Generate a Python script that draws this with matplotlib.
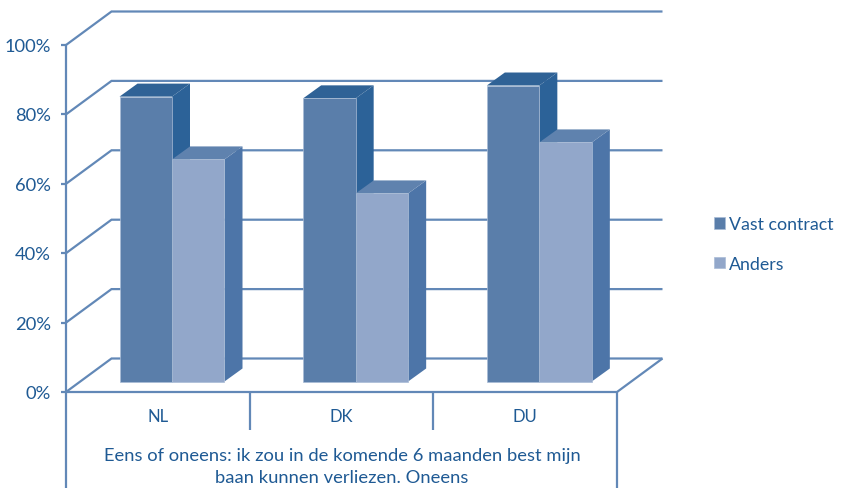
import matplotlib
matplotlib.use("Agg")
import matplotlib.pyplot as plt
from matplotlib.patches import Polygon, Rectangle

categories = ["NL", "DK", "DU"]
series_names = ["Vast contract", "Anders"]
vast_contract = [82.1, 81.6, 85.3]
anders = [64.0, 54.2, 68.9]
y_ticks = [0, 20, 40, 60, 80, 100]
y_labels = ["0%", "20%", "40%", "60%", "80%", "100%"]
axis_title = "Eens of oneens: ik zou in de komende 6 maanden best mijn\nbaan kunnen verliezen. Oneens"

LINE = "#6288b7"
TEXT = "#1f5a94"
FRONT = ["#5a7eaa", "#92a7ca"]
TOP = ["#2f6296", "#5f82ae"]
SIDE = ["#2c6298", "#4d75a8"]
EDGE = "#a9bcd6"

W, H = 842, 489
plt.rcParams["font.family"] = ["Lato", "DejaVu Sans"]
fig = plt.figure(figsize=(W / 100, H / 100), dpi=100)
x0, x1, y0, y1 = 66, 617, 393, 46
ax = fig.add_axes([x0 / W, 1 - y0 / H, (x1 - x0) / W, (y0 - y1) / H])
ax.set_xlim(0, 3)
ax.set_ylim(0, 100)
ax.axis("off")

px = 3 / (x1 - x0)          # data units per pixel, x
py = 100 / (y0 - y1)        # data units per pixel, y
DX, DY = 45.5 * px, 33.5 * py  # wall depth
bx, by = 18 * px, 13 * py    # bar depth
base = 10.5 * py             # bar base above front floor edge
margin = 53.5 * px
bw = 52.5 * px
lw = 1.6


def ln(xs, ys, **kw):
    ax.plot(xs, ys, color=LINE, lw=kw.pop("lw", lw), clip_on=False,
            solid_capstyle="butt", solid_joinstyle="miter", **kw)


for t in y_ticks:
    ln([0, DX, 3 + DX], [t, t + DY, t + DY], zorder=1)
    ln([-5 * px, 0], [t, t], zorder=1)
ln([0, 0], [0, 100], zorder=1)
ln([0, 3, 3 + DX], [0, 0, DY], zorder=1)
for i in range(1, 3):
    ln([i, i], [0, -38 * py], zorder=1)
for i in (0, 3):
    ln([i, i], [0, -97 * py], zorder=1)

for i in range(len(categories)):
    for s, vals in enumerate((vast_contract, anders)):
        v = vals[i]
        l = i + margin + s * bw
        r = l + bw
        z = 3 + s + i
        ax.add_patch(Polygon([(r, base), (r + bx, base + by), (r + bx, base + v + by), (r, base + v)],
                             fc=SIDE[s], ec="none", zorder=z, clip_on=False))
        ax.add_patch(Polygon([(l, base + v), (l + bx, base + v + by), (r + bx, base + v + by), (r, base + v)],
                             fc=TOP[s], ec="none", zorder=z, clip_on=False))
        ax.add_patch(Rectangle((l, base), bw, v, fc=FRONT[s], ec=EDGE, lw=0.5, zorder=z, clip_on=False))

for t, lab in zip(y_ticks, y_labels):
    ax.text(-15 * px, t - 1 * py, lab, ha="right", va="center", fontsize=13.2, color=TEXT, clip_on=False)
for i, c in enumerate(categories):
    ax.text(i + 0.5, -24 * py, c, ha="center", va="center", fontsize=12, color=TEXT, clip_on=False)
ax.text((342 - x0) * px, -74 * py, axis_title, ha="center", va="center", fontsize=13.2,
        color=TEXT, linespacing=1.5, clip_on=False)

handles = [Rectangle((0, 0), 1, 1, fc=FRONT[0], ec=EDGE, lw=0.5),
           Rectangle((0, 0), 1, 1, fc=FRONT[1], ec=EDGE, lw=0.5)]
fig.legend(handles, series_names, loc="center left", bbox_to_anchor=(714 / W, 1 - 245 / H),
           frameon=False, fontsize=12.8, labelcolor=TEXT, handlelength=0.62, handleheight=0.62,
           handletextpad=0.22, labelspacing=1.3, borderpad=0, borderaxespad=0)

fig.savefig("out.png", dpi=100, facecolor="white")
